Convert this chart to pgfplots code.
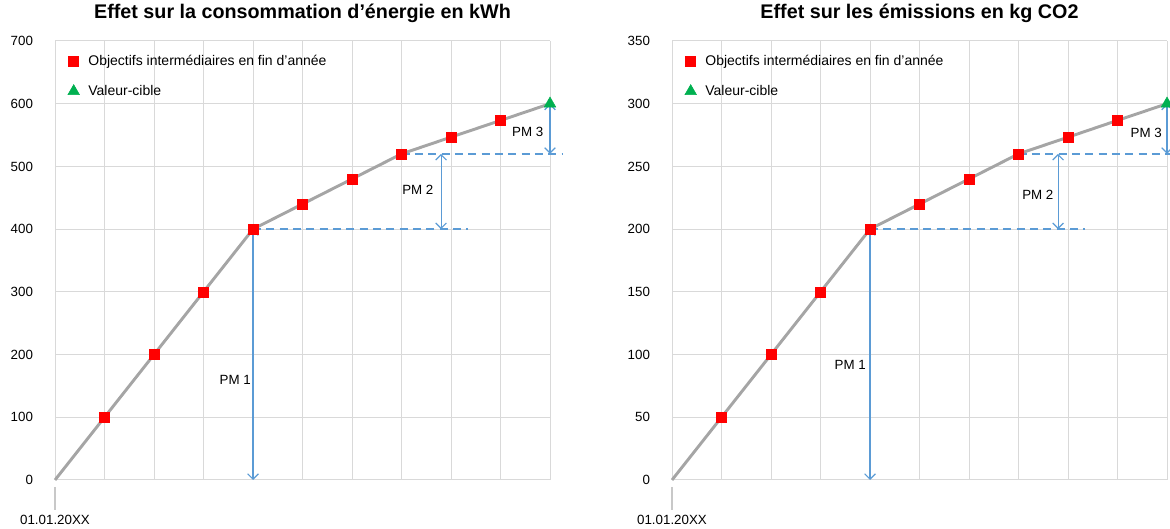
\documentclass[border=0pt]{standalone}
\usepackage{pgfplots}
\pgfplotsset{compat=1.18}
\usepackage{fontspec}
\setmainfont{Liberation Sans}
\usetikzlibrary{arrows.meta}

\definecolor{lgray}{HTML}{A5A5A5}
\definecolor{gridc}{HTML}{D9D9D9}
\definecolor{tickc}{HTML}{C8C8C8}
\definecolor{pmblue}{HTML}{5B9BD5}
\definecolor{cgreen}{HTML}{00B050}

\tikzset{pmlabel/.style={font=\fontsize{10}{12}\selectfont}}
\pgfplotsset{
  pmchart/.style={
    scale only axis, width=371.25pt, height=329.25pt,
    anchor=south west, clip=false,
    xmin=0, xmax=10, ymin=0,
    xtick={0,1,...,10}, xticklabels={01.01.20XX},
    axis line style={draw=none},
    major tick length=0pt,
    grid=major, grid style={gridc, line width=0.75pt},
    tick label style={font=\fontsize{10}{12}\selectfont},
    /pgf/number format/assume math mode=true,
    yticklabel style={anchor=east, xshift=-13pt},
    xticklabel style={anchor=center, yshift=-30pt},
    title style={at={(0.5,1)}, anchor=base, yshift=10.7pt,
      font=\bfseries\fontsize{14.8}{17}\selectfont},
    legend style={draw=none, fill=none, at={(0,1)}, anchor=north west,
      xshift=6.5pt, yshift=-6.25pt,
      font=\fontsize{10.5}{12}\selectfont, row sep=9.5pt},
    legend cell align=left,
    legend image code/.code={
      \draw[##1] plot coordinates {(0pt,0pt)};
      \path[draw=none, fill=none] (-4pt,0pt) rectangle (9pt,0pt);},
  },
  pmarrow/.style={pmblue, line width=0.9pt,
    {Straight Barb[length=4pt,width=8pt]}-{Straight Barb[length=4pt,width=8pt]}, forget plot},
  pmdash/.style={pmblue, line width=1.1pt, dash pattern=on 6pt off 4pt, forget plot},
}

\begin{document}
\begin{tikzpicture}
\useasboundingbox (0,0) rectangle (877.5pt,396pt);

% left chart: energy
\begin{axis}[pmchart, at={(41.25pt,36pt)}, ymax=700, ytick={0,100,...,700},
  title={Effet sur la consommation d’énergie en kWh}]
\addplot[pmdash] coordinates {(4,400) (8.34,400)};
\addplot[pmdash] coordinates {(7,520) (10.24,520)};
\addplot[pmarrow] coordinates {(4,400) (4,0)};
\addplot[pmarrow] coordinates {(7.8,400) (7.8,520)};
\addplot[pmarrow] coordinates {(10,520) (10,600)};
\addplot[lgray, line width=2.2pt, forget plot] coordinates {
  (0,0) (1,100) (2,200) (3,300) (4,400) (5,440) (6,480) (7,520)
  (8,546.7) (9,573.3) (10,600)};
\addplot[only marks, mark=square*, mark size=3.75pt, red] coordinates {
  (1,100) (2,200) (3,300) (4,400) (5,440) (6,480) (7,520) (8,546.7) (9,573.3)};
\addlegendentry{Objectifs intermédiaires en fin d’année}
\addplot[only marks, mark=triangle*, mark size=5pt, cgreen] coordinates {(10,600)};
\addlegendentry{Valeur-cible}
\node[pmlabel] at (axis cs:3.64,159) {PM 1};
\node[pmlabel] at (axis cs:7.33,462) {PM 2};
\node[pmlabel] at (axis cs:9.55,555) {PM 3};
\draw[tickc, line width=0.9pt] ([yshift=-5.25pt]axis cs:0,0) -- ([yshift=-22.5pt]axis cs:0,0);
\end{axis}

% right chart: emissions
\begin{axis}[pmchart, at={(504pt,36pt)}, ymax=350, ytick={0,50,...,350},
  title={Effet sur les émissions en kg CO2}]
\addplot[pmdash] coordinates {(4,200) (8.34,200)};
\addplot[pmdash] coordinates {(7,260) (10.3,260)};
\addplot[pmarrow] coordinates {(4,200) (4,0)};
\addplot[pmarrow] coordinates {(7.8,200) (7.8,260)};
\addplot[pmarrow] coordinates {(10,260) (10,300)};
\addplot[lgray, line width=2.2pt, forget plot] coordinates {
  (0,0) (1,50) (2,100) (3,150) (4,200) (5,220) (6,240) (7,260)
  (8,273.3) (9,286.7) (10,300)};
\addplot[only marks, mark=square*, mark size=3.75pt, red] coordinates {
  (1,50) (2,100) (3,150) (4,200) (5,220) (6,240) (7,260) (8,273.3) (9,286.7)};
\addlegendentry{Objectifs intermédiaires en fin d’année}
\addplot[only marks, mark=triangle*, mark size=5pt, cgreen] coordinates {(10,300)};
\addlegendentry{Valeur-cible}
\node[pmlabel] at (axis cs:3.6,92) {PM 1};
\node[pmlabel] at (axis cs:7.39,227) {PM 2};
\node[pmlabel] at (axis cs:9.58,277) {PM 3};
\draw[tickc, line width=0.9pt] ([yshift=-5.25pt]axis cs:0,0) -- ([yshift=-22.5pt]axis cs:0,0);
\end{axis}
\end{tikzpicture}
\end{document}
